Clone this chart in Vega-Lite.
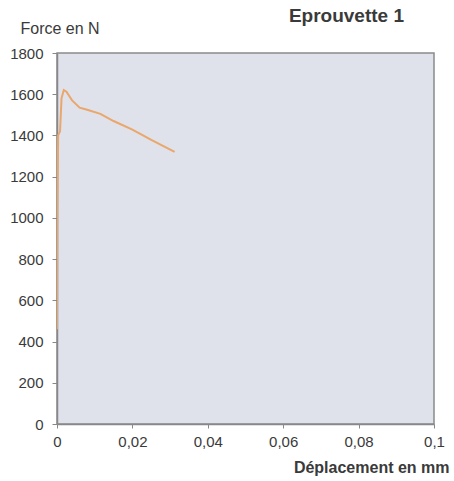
{
  "$schema": "https://vega.github.io/schema/vega-lite/v6.json",
  "width": 377,
  "height": 371,
  "autosize": {"type": "none"},
  "padding": {"left": 57, "top": 53, "right": 20, "bottom": 57},
  "background": "white",
  "title": {
    "text": "Eprouvette 1",
    "anchor": "end",
    "frame": "group",
    "fontSize": 19,
    "fontWeight": "bold",
    "font": "Liberation Sans",
    "color": "#3a3a3a",
    "dx": -30,
    "dy": 6,
    "offset": 0
  },
  "config": {
    "view": {"fill": "#dfe1eb", "stroke": "#8a8a8a", "strokeWidth": 1.5},
    "font": "Liberation Sans"
  },
  "data": {
    "values": [
      {"x": 0.0, "y": 460},
      {"x": 0.0001, "y": 1000},
      {"x": 0.0003, "y": 1400},
      {"x": 0.0008, "y": 1420},
      {"x": 0.0012, "y": 1580},
      {"x": 0.0018, "y": 1620},
      {"x": 0.0025, "y": 1612},
      {"x": 0.004, "y": 1570},
      {"x": 0.006, "y": 1535},
      {"x": 0.008, "y": 1525},
      {"x": 0.0115, "y": 1505},
      {"x": 0.015, "y": 1470},
      {"x": 0.02, "y": 1428},
      {"x": 0.025, "y": 1378},
      {"x": 0.0312, "y": 1320}
    ]
  },
  "mark": {"type": "line", "color": "#eaa76c", "strokeWidth": 2, "clip": true},
  "encoding": {
    "x": {
      "field": "x",
      "type": "quantitative",
      "scale": {"domain": [0, 0.1], "nice": false, "zero": false},
      "axis": {
        "values": [0, 0.02, 0.04, 0.06, 0.08, 0.1],
        "grid": false,
        "labelExpr": "replace(format(datum.value, '~g'), '.', ',')",
        "labelFontSize": 15,
        "labelColor": "#3a3a3a",
        "labelPadding": 6,
        "tickSize": 4,
        "tickColor": "#888888",
        "domainColor": "#888888",
        "domainWidth": 1.5,
        "labelFlush": false,
        "title": "Déplacement en mm",
        "titleFontSize": 16,
        "titleFontWeight": "bold",
        "titleColor": "#3a3a3a",
        "titleAnchor": "end",
        "titleAlign": "right",
        "titleX": 392,
        "titleY": 48,
        "titleBaseline": "alphabetic"
      }
    },
    "y": {
      "field": "y",
      "type": "quantitative",
      "scale": {"domain": [0, 1800], "nice": false},
      "axis": {
        "values": [0, 200, 400, 600, 800, 1000, 1200, 1400, 1600, 1800],
        "format": "d",
        "grid": false,
        "labelFontSize": 15,
        "labelColor": "#3a3a3a",
        "labelPadding": 9,
        "tickSize": 5,
        "tickColor": "#888888",
        "domainColor": "#888888",
        "domainWidth": 1.5,
        "title": "Force en N",
        "titleAngle": 0,
        "titleFontSize": 16,
        "titleFontWeight": "normal",
        "titleColor": "#3a3a3a",
        "titleAlign": "left",
        "titleX": -37,
        "titleY": -20,
        "titleBaseline": "alphabetic"
      }
    }
  }
}
